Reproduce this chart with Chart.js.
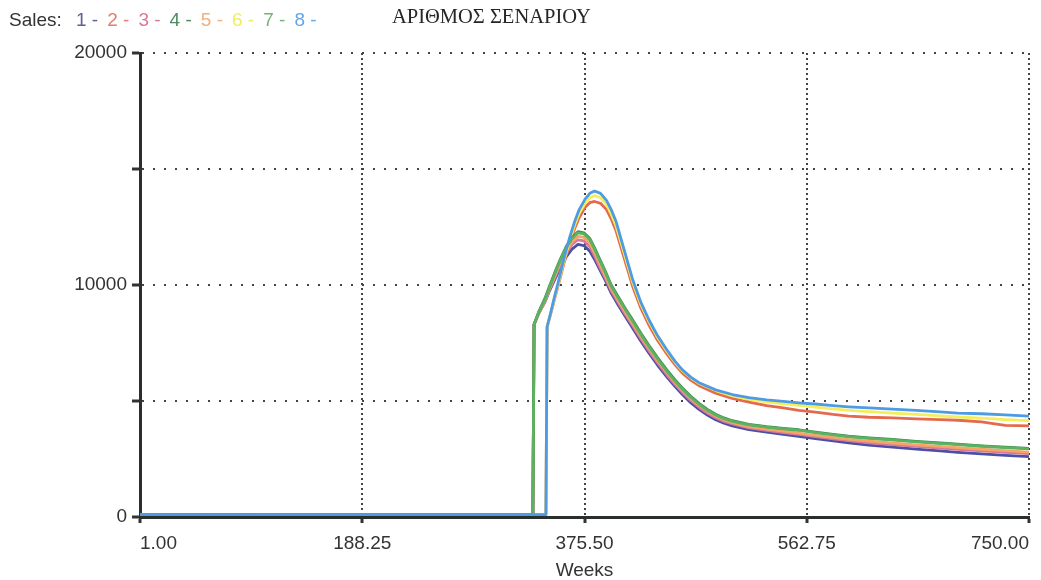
<!DOCTYPE html>
<html><head><meta charset="utf-8">
<script src="https://cdn.jsdelivr.net/npm/chart.js@4.4.1/dist/chart.umd.min.js"></script>
<style>
html,body{margin:0;padding:0;background:#fff;}
#wrap{position:relative;width:1041px;height:580px;overflow:hidden;background:#fff;}
#c{position:absolute;left:0;top:0;}
#legend{position:absolute;left:9px;top:10px;font-size:19px;font-family:"Liberation Sans",Arial,sans-serif;line-height:1;color:#333;white-space:nowrap;}
#legend .it{position:absolute;top:0;}
#title{position:absolute;left:392px;top:6px;font-size:20.5px;font-family:"Liberation Serif","Times New Roman",serif;line-height:1;color:#262626;white-space:nowrap;}
</style></head><body>
<div id="wrap"><canvas id="c" width="1041" height="580"></canvas>
<div id="legend"><span>Sales:</span></div>
<div id="title">ΑΡΙΘΜΟΣ ΣΕΝΑΡΙΟΥ</div></div>
<script>
// ---- data ----
const seriesNames = ['1','2','3','4','5','6','7','8'];
const lineColors = ['#4b4fa6','#e4694f','#d9779a','#3f8a4c','#f2a766','#f4ee5a','#5cb162','#4d9be3'];
const legendColors = ['#5e6199','#e27f6e','#d9779a','#4f8a5c','#efb07c','#f0ee60','#74b476','#63a6ea'];

const xTicks = [1, 188.25, 375.5, 562.75, 750];
const xTickLabels = ['1.00','188.25','375.50','562.75','750.00'];
const yTicks = [0, 5000, 10000, 15000, 20000];
const yTickLabels = ['0','','10000','','20000'];

const weeksA = [1,100,200,300,332,333,337,342,346,351,355,360,365,370,375,380,384,388,393,398,404,410,416,423,430,437,445,452,458,465,472,479,486,493,500,514,529,543,556,570,585,598,615,635,655,675,690,710,730,750];
const weeksB = [1,100,200,300,343,344,347,350,354,358,363,367,371,376,380,384,389,394,398,402,409,416,423,430,437,445,452,458,465,472,486,500,514,529,543,556,570,585,598,615,635,655,675,690,710,730,750];

const sales1 = [110,105,100,100,100, 8300,8780,9250,9750,10300, 10750,11200,11550,11750,11700, 11450,11100,10700,10200,9650, 9130,8630,8150,7580,7050, 6550,6030,5610,5280,4930, 4640,4390,4190,4040,3930, 3770,3660,3560,3480,3380, 3280,3200,3100,3010,2930, 2850,2790,2720,2660,2600];
const sales3 = [110,105,100,100,100, 8300,8800,9280,9800,10380, 10850,11350,11750,11950,11900, 11650,11250,10800,10300,9750, 9230,8730,8250,7680,7150, 6650,6120,5700,5370,5020, 4730,4480,4280,4120,4010, 3840,3730,3640,3560,3460, 3370,3290,3200,3120,3040, 2970,2920,2850,2790,2730];
const sales4 = [110,105,100,100,100, 8300,8850,9400,9950,10600, 11100,11650,12050,12300,12250, 12000,11600,11150,10600,10000, 9480,8980,8500,7920,7380, 6870,6330,5900,5560,5200, 4900,4640,4430,4270,4150, 3990,3890,3820,3760,3660, 3560,3480,3410,3340,3260, 3190,3140,3070,3010,2960];
const sales5 = [110,105,100,100,100, 8300,8800,9300,9850,10450, 10950,11450,11850,12100,12050, 11800,11400,10950,10400,9850, 9330,8830,8350,7780,7250, 6750,6220,5790,5460,5110, 4810,4560,4350,4190,4070, 3900,3790,3700,3620,3520, 3430,3350,3270,3190,3110, 3040,2990,2920,2860,2800];
const sales7 = [110,105,100,100,100, 8300,8820,9350,9900,10550, 11050,11600,12000,12250,12200, 11950,11550,11100,10550,9950, 9430,8930,8450,7870,7330, 6820,6280,5850,5520,5160, 4860,4600,4400,4240,4120, 3970,3870,3800,3740,3640, 3540,3460,3390,3320,3240, 3170,3120,3050,2990,2940];

const sales2 = [110,105,100,100,100, 8200,8750,9350,10100,10900, 11800,12400,12900,13350,13550, 13600,13520,13250,12850,12350, 11150,9950,9000,8250,7620, 7020,6550,6200,5900,5660, 5340,5110,4950,4800,4700, 4600,4520,4420,4350,4300, 4270,4230,4200,4170,4100, 3950,3930];
const sales6 = [110,105,100,100,100, 8200,8780,9400,10180,11000, 11920,12550,13080,13520,13760, 13850,13760,13470,13050,12550, 11350,10130,9150,8400,7750, 7140,6650,6300,6000,5760, 5450,5220,5070,4960,4880, 4810,4740,4660,4600,4540, 4480,4420,4360,4310,4260, 4200,4150];
const sales8 = [110,105,100,100,100, 8200,8800,9450,10250,11100, 12050,12700,13250,13700,13950, 14050,13950,13650,13250,12750, 11500,10250,9250,8480,7820, 7200,6700,6340,6030,5790, 5480,5280,5150,5050,4980, 4920,4870,4800,4750,4700, 4650,4600,4530,4480,4450, 4400,4350];

// ---- legend text ----
const legendEl = document.getElementById('legend');
seriesNames.forEach((n, i) => {
  const s = document.createElement('span');
  s.className = 'it';
  s.style.left = (67 + i * 31.2) + 'px';
  s.style.color = legendColors[i];
  s.textContent = n + ' -';
  legendEl.appendChild(s);
});

// ---- chart ----
const seriesValues = [sales1, sales2, sales3, sales4, sales5, sales6, sales7, sales8];
const seriesWeeks = [weeksA, weeksB, weeksA, weeksA, weeksA, weeksB, weeksA, weeksB];
const drawOrder = [7, 5, 6, 2, 4, 3, 1, 0];
const FONT = '"Liberation Sans", Arial, sans-serif';

const datasets = seriesValues.map((vals, i) => ({
  label: seriesNames[i],
  data: seriesWeeks[i].map((w, j) => ({x: w, y: vals[j]})),
  borderColor: lineColors[i],
  backgroundColor: lineColors[i],
  borderWidth: 2.8,
  pointRadius: 0,
  tension: 0,
  borderJoinStyle: 'round',
  fill: false,
  order: drawOrder[i]
}));

new Chart(document.getElementById('c'), {
  type: 'line',
  data: { datasets },
  options: {
    responsive: false,
    animation: false,
    layout: { padding: { top: 53, right: 12, left: 0, bottom: 0 } },
    plugins: { legend: { display: false }, tooltip: { enabled: false }, title: { display: false } },
    scales: {
      x: {
        type: 'linear', min: 1, max: 750,
        afterBuildTicks: s => { s.ticks = xTicks.map(v => ({ value: v })); },
        afterFit: s => { s.height = 63; },
        ticks: {
          autoSkip: false, maxRotation: 0, align: 'inner', padding: 9,
          color: '#333', font: { family: FONT, size: 19 },
          callback: (v, i) => xTickLabels[i]
        },
        grid: { color: '#444', lineWidth: 2, tickLength: 6, tickWidth: 3, tickColor: '#333' },
        border: { display: true, color: '#2b2f2b', width: 3, dash: [2, 3] },
        title: { display: true, text: 'Weeks', color: '#333', font: { family: FONT, size: 19 }, padding: { top: 0, bottom: -2 } }
      },
      y: {
        type: 'linear', min: 0, max: 20000,
        afterBuildTicks: s => { s.ticks = yTicks.map(v => ({ value: v })); },
        afterFit: s => { s.width = 140; },
        ticks: {
          padding: 5, color: '#333', font: { family: FONT, size: 19 },
          callback: (v, i) => yTickLabels[i]
        },
        grid: { color: '#444', lineWidth: 2, tickLength: 8, tickWidth: 3, tickColor: '#333' },
        border: { display: true, color: '#2b2f2b', width: 3, dash: [2, 9] }
      }
    }
  }
});
</script>
</body></html>
